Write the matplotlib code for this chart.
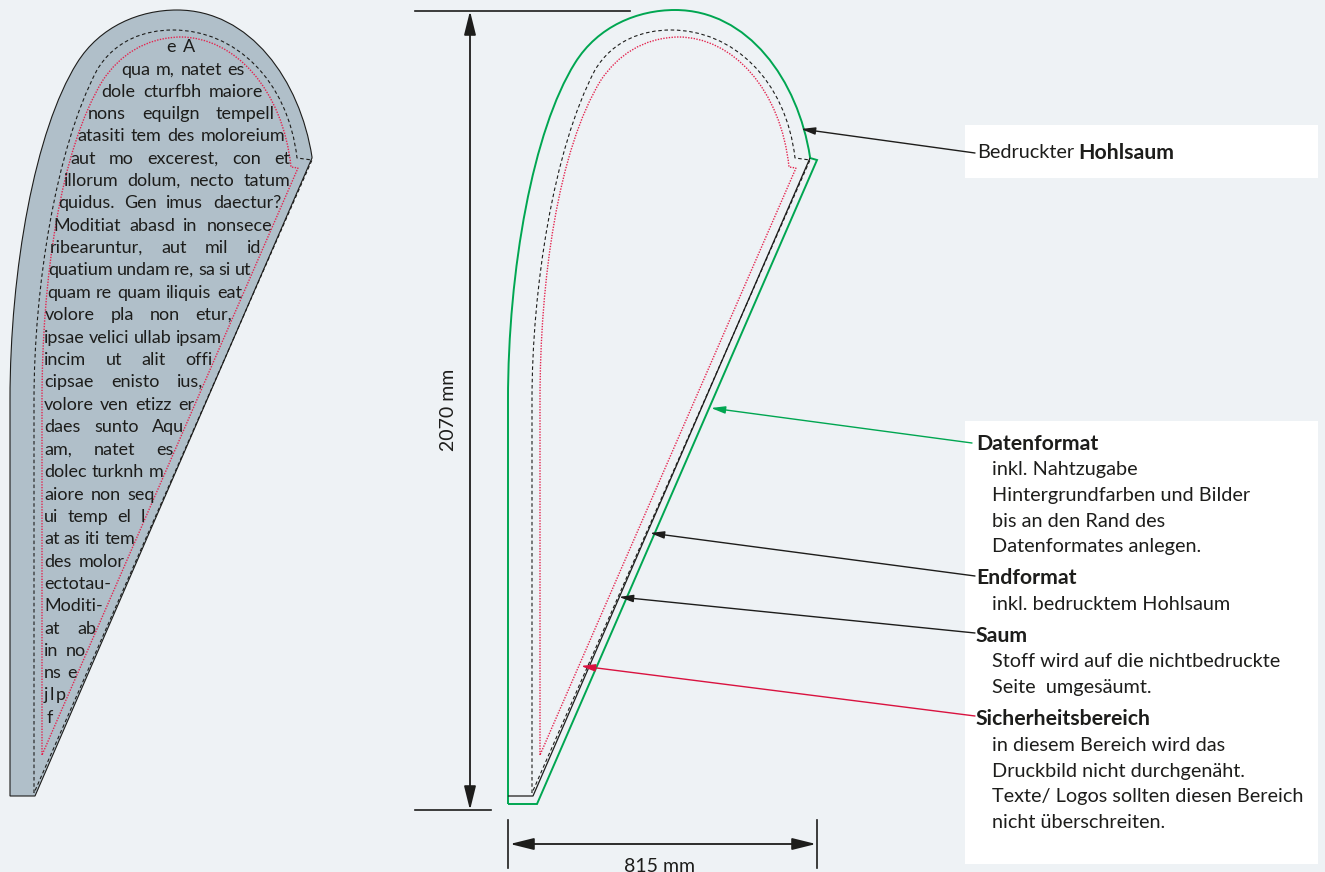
import matplotlib
matplotlib.use('Agg')
import matplotlib.pyplot as plt
from matplotlib.path import Path
from matplotlib.patches import PathPatch, Rectangle

# Flag outline as bezier knots and handles (pixels)
outline_x = [10, 10, 35, 77, 100, 140, 177, 250, 300, 312]
outline_y = [400, 270, 130, 63, 26, 10, 10, 10, 80, 157]
hem_x = [312, 35, 10, 10]
hem_y = [158, 796, 796, 400]

# Dashed line (final format minus hem)
dashed_x = [34, 34, 55, 97, 115, 145, 173, 235, 288, 297]
dashed_y = [400, 290, 150, 70, 40, 30, 30, 30, 80, 158]

# Dotted red line (safety area)
safe_x = [42, 42, 60, 103, 120, 145, 180, 235, 283, 291]
safe_y = [400, 280, 150, 80, 55, 38, 37, 37, 90, 167]

# Left text block: line, left edge, right edge, vertical centre
body_lines = ['e A', 'qua m, natet es', 'dole cturfbh maiore', 'nons equilgn tempell',
              'atasiti tem des moloreium', 'aut mo excerest, con et', 'illorum dolum, necto tatum',
              'quidus. Gen imus daectur?', 'Moditiat abasd in nonsece', 'ribearuntur, aut mil id',
              'quatium undam re, sa si ut', 'quam re quam iliquis eat', 'volore pla non etur,',
              'ipsae velici ullab ipsam', 'incim ut alit offi', 'cipsae enisto ius,',
              'volore ven etizz er', 'daes sunto Aqu', 'am, natet es', 'dolec turknh m',
              'aiore non seq', 'ui temp el l', 'at as iti tem', 'des molor', 'ectotau-',
              'Moditi-', 'at ab', 'in no', 'ns e', 'j l p', 'f']
body_left = [166, 121, 101, 88, 77, 70, 64, 58, 53, 50, 48, 47, 45, 44, 44, 44, 44, 44, 44, 44,
             44, 44, 44, 44, 44, 44, 44, 44, 44, 44, 47]
body_right = [195, 245, 263, 275, 285, 290, 290, 281, 272, 261, 251, 242, 232, 222, 212, 203,
              194, 184, 174, 164, 155, 145, 135, 125, 115, 105, 96, 86, 77, 66, 53]
body_y = [47, 70, 92, 114, 136, 159, 181, 203, 226, 248, 270, 293, 315, 338, 360, 382, 405, 427,
          450, 472, 495, 517, 539, 562, 584, 606, 629, 651, 673, 695, 718]

# Legend text on the right
note_text = ['Datenformat', 'inkl. Nahtzugabe', 'Hintergrundfarben und Bilder', 'bis an den Rand des',
             'Datenformates anlegen.', 'Endformat', 'inkl. bedrucktem Hohlsaum', 'Saum',
             'Stoff wird auf die nichtbedruckte', 'Seite  umgesäumt.', 'Sicherheitsbereich',
             'in diesem Bereich wird das', 'Druckbild nicht durchgenäht.',
             'Texte/ Logos sollten diesen Bereich', 'nicht überschreiten.']
note_y = [444, 469, 495, 521, 546, 578, 604, 636, 661, 687, 719, 745, 771, 796, 822]
note_bold = [1, 0, 0, 0, 0, 1, 0, 1, 0, 0, 1, 0, 0, 0, 0]

# Leader arrows: text end, tip, colour
arrow_from = [(975, 153), (972, 443), (975, 576), (975, 633), (975, 716)]
arrow_to = [(801, 129), (711, 408), (650, 533), (619, 597), (581, 666)]
arrow_col = ['#1d1d1b', '#00a651', '#1d1d1b', '#1d1d1b', '#d9123f']

BG = '#eef2f5'
FILL = '#b0bfc9'
INK = '#1d1d1b'
GREEN = '#00a651'
RED = '#e4254f'
DX = 498  # right drawing is the left one moved over
FONT = 'Lato'

fig = plt.figure(figsize=(13.25, 8.72), dpi=100, facecolor=BG)
ax = fig.add_axes([0, 0, 1, 1])
ax.set_xlim(0, 1325)
ax.set_ylim(872, 0)
ax.axis('off')


def curve(xs, ys, dx=0, before=(), after=(), **kw):
    # straight run in, the bezier, straight run out
    verts = list(before) + [(x + dx, y) for x, y in zip(xs, ys)] + list(after)
    codes = [Path.MOVETO] + [Path.LINETO] * len(before) + [Path.CURVE4] * (len(xs) - 1) + [Path.LINETO] * len(after)
    if not before:
        codes = [Path.MOVETO] + [Path.CURVE4] * (len(xs) - 1) + [Path.LINETO] * len(after)
    ax.add_patch(PathPatch(Path(verts, codes), capstyle='butt', joinstyle='miter', **kw))


DASH = (0, (3.2, 2.4))
DOT = (0, (1, 1))

# left flag, filled
curve(outline_x, outline_y, after=list(zip(hem_x, hem_y)), facecolor=FILL, edgecolor=INK, lw=0.8)
curve(dashed_x, dashed_y, before=[(34, 793)], after=[(312, 160), (34, 793)],
      facecolor='none', edgecolor=INK, lw=0.8, ls=DASH)
curve(safe_x, safe_y, before=[(42, 755)], after=[(298, 168), (42, 755)],
      facecolor='none', edgecolor=RED, lw=1.0, ls=DOT)

# right flag, outlines only
curve(outline_x, outline_y, dx=DX, before=[(508, 804)], after=[(810, 158), (817, 160), (537, 804), (508, 804)],
      facecolor='none', edgecolor=GREEN, lw=1.4)
ax.plot([508, 533, 810], [796, 796, 158], color=INK, lw=0.9, solid_capstyle='butt')
curve(dashed_x, dashed_y, dx=DX, before=[(532, 793)], after=[(810, 160), (532, 793)],
      facecolor='none', edgecolor=INK, lw=0.8, ls=DASH)
curve(safe_x, safe_y, dx=DX, before=[(540, 755)], after=[(796, 168), (540, 755)],
      facecolor='none', edgecolor=RED, lw=1.0, ls=DOT)

# white label boxes
ax.add_patch(Rectangle((965, 125), 353, 53, facecolor='white', edgecolor='none'))
ax.add_patch(Rectangle((965, 421), 353, 443, facecolor='white', edgecolor='none'))

# justified text in the left flag, word by word
renderer = fig.canvas.get_renderer()
for line, x0, x1, y in zip(body_lines, body_left, body_right, body_y):
    words = line.split()
    items = [ax.text(x0, y, w, fontsize=13, family=FONT, color=INK, va='center', ha='left') for w in words]
    widths = [t.get_window_extent(renderer).width for t in items]
    gap = (x1 - x0 - sum(widths)) / (len(words) - 1) if len(words) > 1 else 0
    x = x0
    for t, w in zip(items, widths):
        t.set_x(x)
        x += w + gap

# dimension lines
ax.plot([415, 630], [11, 11], color=INK, lw=1.2)
ax.plot([415, 491], [810, 810], color=INK, lw=1.2)
ax.plot([508, 508], [820, 868], color=INK, lw=1.2)
ax.plot([817, 817], [820, 868], color=INK, lw=1.2)
ax.annotate('', xy=(470, 11), xytext=(470, 810),
            arrowprops=dict(arrowstyle='<|-|>,head_length=1.45,head_width=0.36', color=INK, lw=1.3,
                            shrinkA=0, shrinkB=0))
ax.annotate('', xy=(510, 844), xytext=(816, 844),
            arrowprops=dict(arrowstyle='<|-|>,head_length=1.45,head_width=0.36', color=INK, lw=1.3,
                            shrinkA=0, shrinkB=0))
ax.text(449, 410, '2070 mm', rotation=90, fontsize=14, family=FONT, color=INK, ha='center', va='center')
ax.text(660, 866, '815 mm', fontsize=14, family=FONT, color=INK, ha='center', va='center')

# leaders
for a, b, c in zip(arrow_from, arrow_to, arrow_col):
    ax.annotate('', xy=b, xytext=a,
                arrowprops=dict(arrowstyle='-|>,head_length=0.85,head_width=0.22', color=c, lw=1.0,
                                shrinkA=0, shrinkB=0))

# labels
ax.text(977, 153, 'Bedruckter', fontsize=14.3, family=FONT, color=INK, va='center')
ax.text(1078, 153, 'Hohlsaum', fontsize=15.3, family=FONT, weight='bold', color=INK, va='center')
for s, y, b in zip(note_text, note_y, note_bold):
    ax.text(976 if b else 992, y, s, fontsize=15.3 if b else 14.3, family=FONT, color=INK, va='center',
            weight='bold' if b else 'normal')

fig.savefig('out.png', dpi=100, facecolor=BG)
